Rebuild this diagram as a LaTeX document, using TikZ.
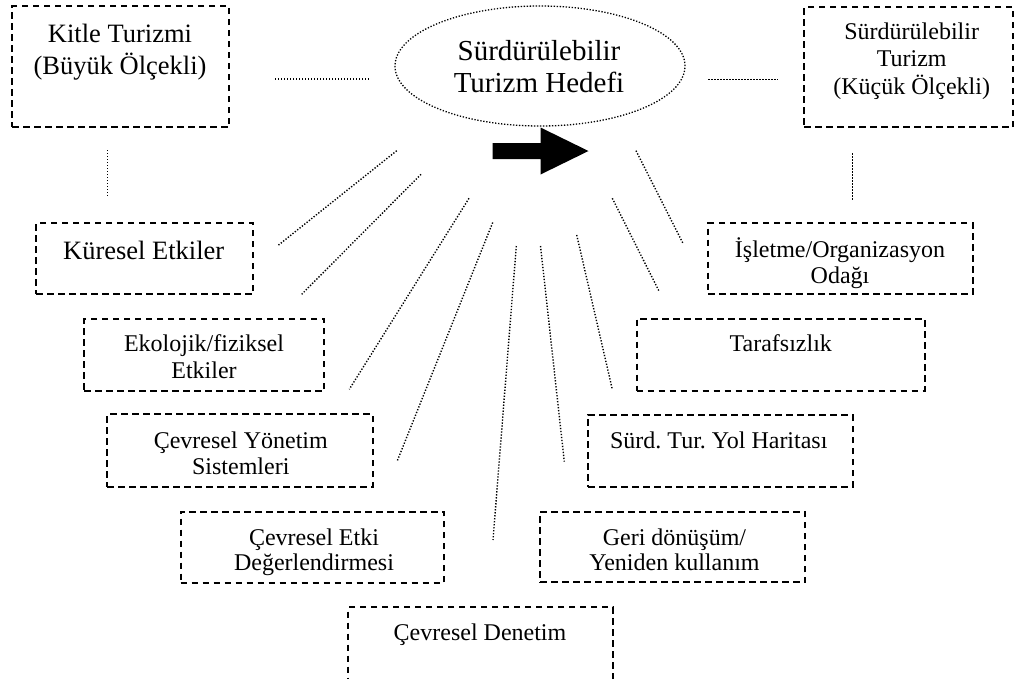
\documentclass[tikz,border=0pt]{standalone}
\usepackage{fontspec}
\setmainfont{Liberation Serif}
\usetikzlibrary{shapes.geometric}
\begin{document}
\frenchspacing
\begin{tikzpicture}[x=1pt,y=-1pt,
  box/.style={draw, rectangle, line width=1.7pt, dash pattern=on 6.5pt off 4.5pt, inner sep=0pt},
  lbl/.style={inner sep=0pt, align=center, anchor=base, font=\fontsize{24}{26}\selectfont},
  dotline/.style={line width=1.4pt, dash pattern=on 1.3pt off 1.7pt},
  arrowshape/.style={fill=black}
]
\useasboundingbox (0,0) rectangle (1017,678);
\clip (0,0) rectangle (1017,678);

% boxes (text nodes anchored at the baseline of their last line)
\node[box, minimum width=217pt, minimum height=121pt] (kitle) at (120.5,66.5) {};
\node[lbl, font=\fontsize{26.5}{32}\selectfont] (kitle-t) at (120,74.7) {Kitle Turizmi\\(Büyük Ölçekli)};

\node[ellipse, draw, dotline, line width=1.3pt, minimum width=290pt, minimum height=120pt, inner sep=0pt] (hedef) at (540,66) {};
\node[lbl, font=\fontsize{29}{32}\selectfont] (hedef-t) at (539,92.8) {Sürdürülebilir\\Turizm Hedefi};

\node[box, minimum width=209pt, minimum height=120pt] (kucuk) at (908.5,67) {};
\node[lbl, font=\fontsize{24}{27.5}\selectfont] (kucuk-t) at (911.7,94.3) {Sürdürülebilir\\Turizm\\(Küçük Ölçekli)};

\node[box, minimum width=217pt, minimum height=71pt] (kuresel) at (144.5,258.5) {};
\node[lbl, font=\fontsize{26.5}{30}\selectfont] (kuresel-t) at (143.7,259.3) {Küresel Etkiler};

\node[box, minimum width=240pt, minimum height=72pt] (ekolojik) at (204,355) {};
\node[lbl, font=\fontsize{24}{26.6}\selectfont] (ekolojik-t) at (204,378.3) {Ekolojik/fiziksel\\Etkiler};

\node[box, minimum width=265.4pt, minimum height=72.4pt] (cys) at (240,450.5) {};
\node[lbl] (cys-t) at (240.8,474.3) {Çevresel Yönetim\\Sistemleri};

\node[box, minimum width=263.6pt, minimum height=71pt] (ced) at (312.5,547.2) {};
\node[lbl, font=\fontsize{24}{25}\selectfont] (ced-t) at (314,570.7) {Çevresel Etki\\Değerlendirmesi};

\node[box, minimum width=264.4pt, minimum height=83pt] (denetim) at (480.5,648.8) {};
\node[lbl] (denetim-t) at (480,640) {Çevresel Denetim};

\node[box, minimum width=264.4pt, minimum height=71pt] (isletme) at (840.5,258.8) {};
\node[lbl] (isletme-t) at (840,283) {İşletme/Organizasyon\\Odağı};

\node[box, minimum width=288.3pt, minimum height=71.7pt] (taraf) at (780.8,354.8) {};
\node[lbl] (taraf-t) at (780.8,351.7) {Tarafsızlık};

\node[box, minimum width=264.4pt, minimum height=71.7pt] (yol) at (720.5,450.8) {};
\node[lbl] (yol-t) at (718.8,448.3) {Sürd. Tur. Yol Haritası};

\node[box, minimum width=265pt, minimum height=70.6pt] (geri) at (672.5,547) {};
\node[lbl, font=\fontsize{24}{25}\selectfont] (geri-t) at (674.5,570.7) {Geri dönüşüm/\\Yeniden kullanım};

% arrow
\fill[arrowshape] (492.5,143) -- (540.5,143) -- (540.5,127.5) -- (588.5,151) -- (540.5,174.5) -- (540.5,159) -- (492.5,159) -- cycle;

% connector end points
\coordinate (h1a) at (275,79);   \coordinate (h1b) at (370,79);
\coordinate (v1a) at (107.7,150); \coordinate (v1b) at (107.7,196);
\coordinate (h2a) at (708.3,79.3); \coordinate (h2b) at (777.7,79.3);
\coordinate (v2a) at (852.7,153.3); \coordinate (v2b) at (852.7,200);

\coordinate (l1a) at (396.7,150.7); \coordinate (l1b) at (277.3,246);
\coordinate (l2a) at (421,174.3);   \coordinate (l2b) at (301.7,294.3);
\coordinate (l3a) at (469,198.3);   \coordinate (l3b) at (349.3,389.3);
\coordinate (l4a) at (492.7,222.5); \coordinate (l4b) at (397,461.5);
\coordinate (l5a) at (516.3,246);   \coordinate (l5b) at (493,540);
\coordinate (r4a) at (540.5,246);   \coordinate (r4b) at (564.3,461.7);
\coordinate (r3a) at (576.7,235);   \coordinate (r3b) at (612.3,389.3);
\coordinate (r2a) at (612.3,198.3); \coordinate (r2b) at (659.3,291.7);
\coordinate (r1a) at (636,150.7);   \coordinate (r1b) at (683.3,244);

\foreach \p in {h1,v1,h2,v2,l1,l2,l3,l4,l5,r1,r2,r3,r4}
  \draw[dotline] (\p a) -- (\p b);
\end{tikzpicture}
\end{document}
